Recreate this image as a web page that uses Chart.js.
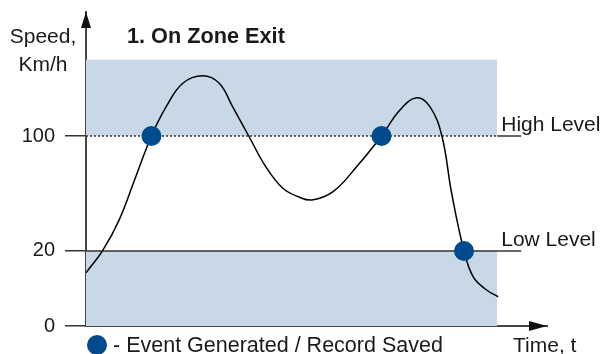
<!DOCTYPE html>
<html>
<head>
<meta charset="utf-8">
<script src="https://cdn.jsdelivr.net/npm/chart.js@4.4.1/dist/chart.umd.min.js"></script>
<style>
  html, body { margin: 0; padding: 0; background: #fff; }
  #wrap { width: 603px; height: 354px; position: relative; }
</style>
</head>
<body>
<div id="wrap"><canvas id="speedChart"></canvas></div>
<script>
// speed profile traced along time (schematic units)
const timeValues = [0, 3.6, 7.2, 10.8, 14.2, 17.4, 21.0, 25.3, 28.9, 31.8, 35.3, 39.0, 42.7, 46.3, 49.0, 53.6, 58.7, 64.1, 68.1, 71.7, 74.6, 77.2, 79.3, 82.0, 84.0, 86.9, 89.4];
const speedValues = [14.2, 20.2, 41.6, 71.7, 100, 120.4, 136.7, 141.9, 136.7, 120.4, 100, 78.6, 63.6, 57.4, 55.5, 61.3, 78.6, 100, 118.1, 126.6, 120.4, 100, 60.5, 20, 13.1, 9.6, 7.8];

// events: record saved when the zone is left
const eventTimes = [14.2, 64.1, 82.0];
const eventSpeeds = [100, 100, 20];

const levelNames = ["High Level", "Low Level"];
const levelValues = [100, 20];
const yTicks = [0, 20, 100];

const zoneEnd = 89.2;   // shaded zones stop here
const lineEnd = 94.4;   // level lines stop here
const zoneTop = 153;

const shade = "#c8d8e6";
const dotColor = "#004b8d";
const ink = "#1a1a1a";
const axisColor = "#444";

// y scale squeezes 0..20 into the bottom part, so both levels fit
class BrokenLinearScale extends Chart.LinearScale {
  getPixelForValue(value) {
    const brk = 20, frac = 0.239;
    let dec;
    if (value <= brk) dec = ((value - this.min) / (brk - this.min)) * frac;
    else dec = frac + ((value - brk) / (this.max - brk)) * (1 - frac);
    return this.getPixelForDecimal(dec);
  }
  getValueForPixel(pixel) {
    const brk = 20, frac = 0.239;
    const dec = this.getDecimalForPixel(pixel);
    if (dec <= frac) return this.min + (dec / frac) * (brk - this.min);
    return brk + ((dec - frac) / (1 - frac)) * (this.max - brk);
  }
}
BrokenLinearScale.id = "brokenLinear";
BrokenLinearScale.defaults = Chart.LinearScale.defaults;
Chart.register(BrokenLinearScale);

const pts = (xs, ys) => xs.map((x, i) => ({ x: x, y: ys[i] }));

const decorations = {
  id: "decorations",
  afterDraw(chart) {
    const { ctx, chartArea, scales } = chart;
    const x = scales.x, y = scales.y;
    ctx.save();

    // axis arrows
    ctx.fillStyle = "#111";
    ctx.beginPath();
    ctx.moveTo(chartArea.left, chartArea.top);
    ctx.lineTo(chartArea.left - 5, chartArea.top + 16);
    ctx.lineTo(chartArea.left + 5, chartArea.top + 16);
    ctx.closePath();
    ctx.fill();
    ctx.beginPath();
    ctx.moveTo(chartArea.right, chartArea.bottom);
    ctx.lineTo(chartArea.right - 18, chartArea.bottom - 5);
    ctx.lineTo(chartArea.right - 18, chartArea.bottom + 5);
    ctx.closePath();
    ctx.fill();

    ctx.fillStyle = ink;
    ctx.textBaseline = "alphabetic";
    ctx.font = "21px 'Liberation Sans', Arial, sans-serif";
    ctx.textAlign = "center";
    ctx.fillText("Speed,", 43, 43);
    ctx.fillText("Km/h", 43, 71);

    ctx.textAlign = "left";
    const lx = x.getPixelForValue(zoneEnd) + 4;
    levelNames.forEach((name, i) => {
      ctx.fillText(name, lx, y.getPixelForValue(levelValues[i]) - 5);
    });
    ctx.fillText("Time, t", 513, 352);
    ctx.font = "21.5px 'Liberation Sans', Arial, sans-serif";
    ctx.fillText("- Event Generated / Record Saved", 113, 352);

    ctx.fillStyle = dotColor;
    ctx.beginPath();
    ctx.arc(97, 345, 10, 0, Math.PI * 2);
    ctx.fill();

    ctx.fillStyle = ink;
    ctx.font = "bold 21.7px 'Liberation Sans', Arial, sans-serif";
    ctx.fillText("1. On Zone Exit", 127, 43);
    ctx.restore();
  },
};

new Chart(document.getElementById("speedChart"), {
  type: "line",
  data: {
    datasets: [
      {
        label: "Event Generated / Record Saved",
        data: pts(eventTimes, eventSpeeds),
        showLine: false,
        pointRadius: 10,
        pointBackgroundColor: dotColor,
        pointBorderWidth: 0,
        order: 0,
      },
      {
        label: "Speed",
        data: pts(timeValues, speedValues),
        borderColor: "#000",
        borderWidth: 1.5,
        tension: 0.4,
        pointRadius: 0,
        fill: false,
        order: 1,
      },
      {
        label: "High Level",
        data: [{ x: 0, y: levelValues[0] }, { x: zoneEnd, y: levelValues[0] }],
        borderColor: "#333",
        borderWidth: 1.5,
        borderDash: [2, 2],
        pointRadius: 0,
        order: 2,
      },
      {
        label: "High Level tail",
        data: [{ x: zoneEnd, y: levelValues[0] }, { x: lineEnd, y: levelValues[0] }],
        borderColor: "#333",
        borderWidth: 1.5,
        pointRadius: 0,
        order: 2,
      },
      {
        label: "Low Level",
        data: [{ x: 0, y: levelValues[1] }, { x: lineEnd, y: levelValues[1] }],
        borderColor: "#333",
        borderWidth: 1.5,
        pointRadius: 0,
        order: 2,
      },
      {
        label: "Upper zone",
        data: [{ x: 0, y: zoneTop }, { x: zoneEnd, y: zoneTop }],
        borderWidth: 0,
        pointRadius: 0,
        backgroundColor: shade,
        fill: { value: levelValues[0] },
        order: 3,
      },
      {
        label: "Lower zone",
        data: [{ x: 0, y: levelValues[1] }, { x: zoneEnd, y: levelValues[1] }],
        borderWidth: 0,
        pointRadius: 0,
        backgroundColor: shade,
        fill: { value: 0 },
        order: 3,
      },
    ],
  },
  options: {
    responsive: true,
    maintainAspectRatio: false,
    animation: false,
    events: [],
    layout: { padding: { left: 0, right: 56, top: 12, bottom: 0 } },
    plugins: {
      legend: { display: false },
      tooltip: { enabled: false },
    },
    scales: {
      x: {
        type: "linear",
        min: 0,
        max: 100,
        ticks: { display: false },
        grid: { display: false },
        border: { color: axisColor, width: 2 },
        afterFit: (s) => { s.height = 28; },
      },
      y: {
        type: "brokenLinear",
        min: 0,
        max: 186.3,
        afterBuildTicks: (s) => { s.ticks = yTicks.map((v) => ({ value: v })); },
        ticks: {
          color: ink,
          padding: 10,
          font: { family: "'Liberation Sans', Arial, sans-serif", size: 20 },
        },
        grid: {
          drawOnChartArea: false,
          drawTicks: true,
          tickLength: 21,
          color: "#333",
          lineWidth: 1.5,
        },
        border: { color: axisColor, width: 2 },
        afterFit: (s) => {
          s.width = 86;
          s.paddingTop = 0;
          s.paddingBottom = 0;
        },
      },
    },
  },
  plugins: [decorations],
});
</script>
</body>
</html>
